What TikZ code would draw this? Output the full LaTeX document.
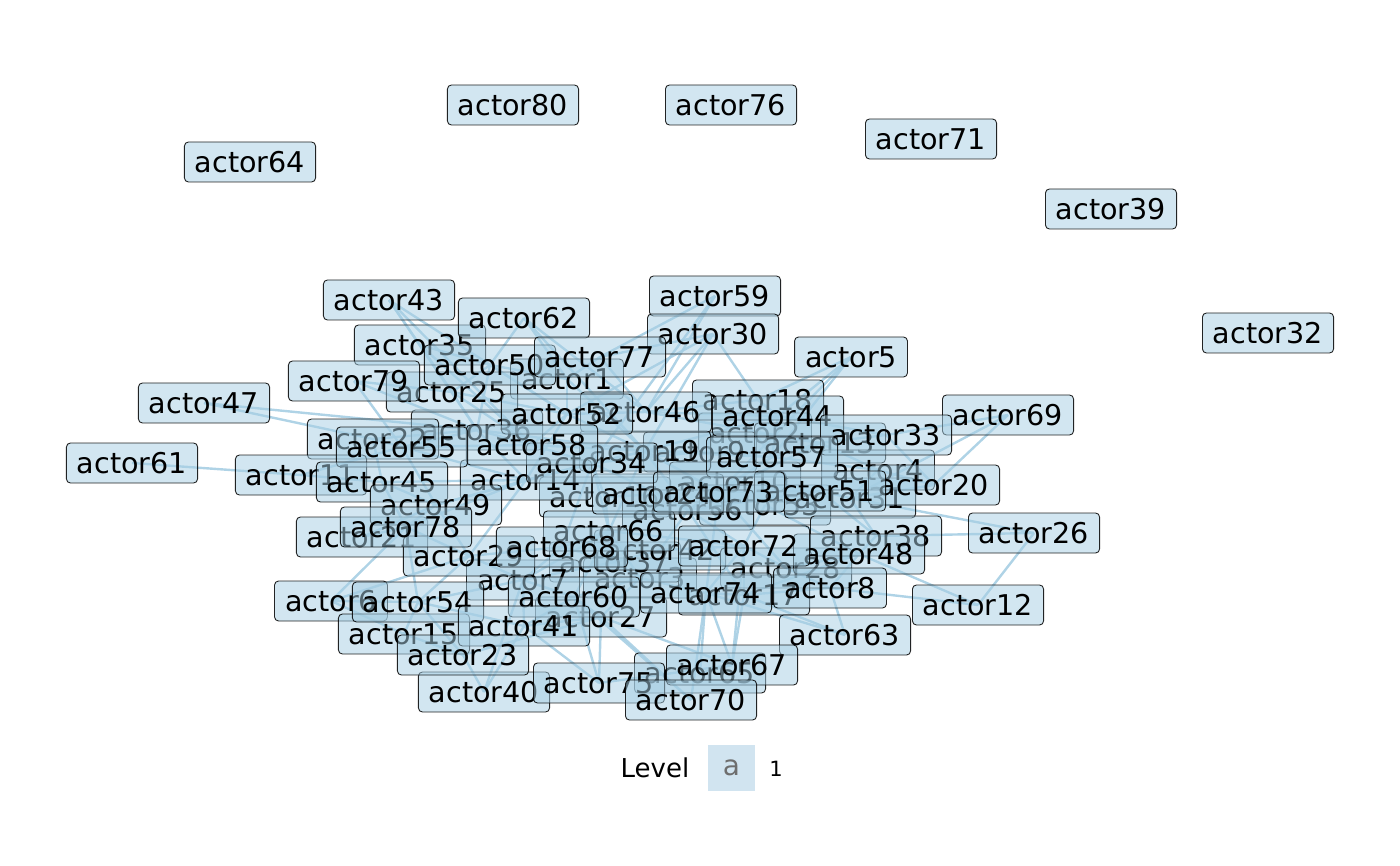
\documentclass[tikz,border=0pt]{standalone}
\usepackage{fontspec}
\setmainfont{DejaVu Sans}
\usetikzlibrary{backgrounds}
\definecolor{edgec}{RGB}{166,206,227}
\definecolor{nodefill}{RGB}{166,206,227}
\definecolor{legfill}{RGB}{209,228,240}
\definecolor{leggrey}{RGB}{110,110,110}
\tikzset{
  act/.style={draw=black, line width=0.9pt, fill=nodefill, fill opacity=0.5,
    text opacity=1, draw opacity=0.85, rounded corners=4pt, inner xsep=10.5pt,
    inner ysep=0pt, minimum height=40pt, text height=21pt, text depth=0pt,
    font=\fontsize{28.6}{30}\selectfont},
  edge/.style={draw=edgec, line width=2.4pt, draw opacity=0.9}
}
\begin{document}
\begin{tikzpicture}[x=1pt,y=-1pt]
\useasboundingbox (0,0) rectangle (1400,866);
% isolates
\foreach \n/\x/\y in {80/513/105, 76/731/105, 64/250/162, 71/931/139, 39/1111/209, 32/1268/333}
  \node[act] (a\n) at (\x,\y) {actor\n};
% lower layers
\foreach \n/\x/\y in {2/755/433, 3/640/578, 9/700/452, 10/735/482, 16/605/497, 13/820/443,
  18/758/400, 36/477/430, 22/373/439, 37/615/562, 42/660/550, 53/765/505, 65/700/673,
  31/850/498, 28/786/568, 4/878/470, 17/744/595, 19/645/451, 1/567/379, 25/452/392,
  35/420/345, 11/301/475, 21/362/537, 6/331/601, 27/601/617, 7/523/580, 29/469/556,
  56/688/510, 66/609/531, 14/526/480, 15/404/634, 40/484/692, 46/646/412, 24/658/494,
  34/592/463}
  \node[act] (a\n) at (\x,\y) {actor\n};
% upper layers
\foreach \n/\x/\y in {43/389/300, 62/524/318, 59/715/296, 30/713/334, 5/851/357,
  50/490/365, 77/600/357, 79/354/381, 52/567/414, 44/778/416, 69/1008/415, 33/886/435,
  47/204/403, 61/132/463, 58/532/445, 55/402/447, 45/382/482, 49/436/505, 57/772/457,
  20/934/485, 51/820/491, 73/719/492, 26/1034/533, 38/876/536, 48/859/554, 78/406/527,
  68/562/547, 72/744/546, 8/830/588, 74/706/593, 60/574/597, 54/418/602, 41/524/626,
  23/463/655, 12/978/605, 63/845/635, 67/732/665, 75/599/683, 70/691/700}
  \node[act] (a\n) at (\x,\y) {actor\n};
% edges
\begin{scope}[on background layer]
\foreach \a/\b in {43/25, 43/36, 43/52, 62/1, 62/50, 62/19, 35/25, 35/58, 79/25, 79/55,
  47/22, 61/11, 59/77, 59/46, 59/34, 30/46, 30/18, 30/19, 30/52, 30/77, 5/18, 5/44,
  5/57, 5/73, 69/33, 69/20, 69/31, 31/26, 26/38, 26/12, 12/48, 12/8, 63/17, 63/8,
  63/74, 67/74, 67/17, 67/27, 67/72, 70/74, 70/60, 70/27, 75/41, 75/60, 75/27, 75/67,
  40/23, 40/41, 40/7, 23/54, 23/15, 23/27, 15/54, 15/6, 6/78, 6/54, 6/29, 21/78,
  21/49, 11/45, 11/55,
  19/34, 19/14, 19/56, 19/73, 19/66, 19/58, 19/52, 19/44, 19/57, 19/36, 34/14, 34/66,
  34/49, 34/68, 34/24, 14/49, 14/45, 14/78, 14/29, 14/55, 14/36, 66/68, 66/72, 66/7,
  66/37, 66/60, 56/73, 56/72, 56/42, 56/51, 56/17, 73/51, 73/57, 73/13, 73/28, 73/74,
  7/29, 7/60, 7/41, 7/54, 7/68, 29/78, 29/49, 29/54, 58/36, 58/55, 58/52, 58/25,
  36/25, 36/22, 36/55, 36/50, 52/1, 52/46, 52/50, 46/18, 46/44, 46/13, 44/57, 44/33,
  57/13, 57/4, 13/33, 13/4, 4/20, 4/31, 51/31, 51/38, 31/20, 38/48, 48/28, 28/8,
  28/72, 8/17, 17/74, 74/72, 72/42, 42/37, 37/3, 3/60, 3/74, 60/27, 27/41, 41/54,
  54/78, 78/45, 45/22, 22/55, 55/49, 49/78, 1/77, 1/50, 50/25, 77/46, 9/19, 9/57,
  10/73, 10/56, 16/34, 16/24, 16/66, 24/56, 2/44, 2/57, 53/48, 53/72, 65/67, 65/74,
  19/1, 34/9, 66/3, 56/10, 29/68, 7/37, 14/52, 58/34, 56/57, 73/19, 13/2, 18/44,
  33/20, 38/31, 48/17, 8/48, 72/17, 60/41, 27/3, 68/37, 49/45, 25/52, 79/36, 43/58,
  62/46, 35/50, 47/36}
  \draw[edge] (a\a.center) -- (a\b.center);
\end{scope}
% legend
\node[font=\fontsize{26}{28}\selectfont, anchor=base] (legtitle) at (655,777) {Level};
\node[fill=legfill, minimum width=47pt, minimum height=46pt, inner sep=0pt,
  text=leggrey, font=\fontsize{28}{30}\selectfont] (legkey) at (731.5,768) {a};
\node[font=\fontsize{21}{24}\selectfont, anchor=base] (leglab) at (776,776) {1};
\end{tikzpicture}
\end{document}
